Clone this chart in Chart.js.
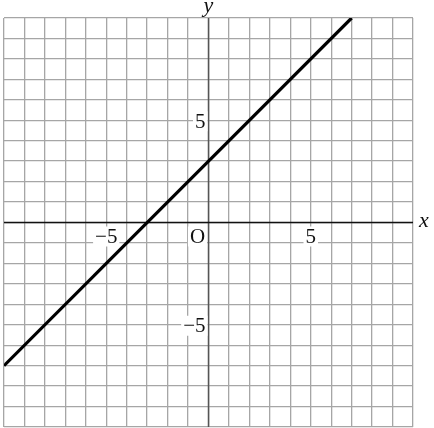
<!DOCTYPE html>
<html>
<head>
<meta charset="utf-8">
<script src="https://cdn.jsdelivr.net/npm/chart.js@4"></script>
<style>
  body { margin: 0; background: #fff; }
  #wrap { width: 434px; height: 428px; }
</style>
</head>
<body>
<div id="wrap"><canvas id="graph"></canvas></div>
<script>
// the line y = x + 3, drawn between its two ends on the grid
const lineX = [-10, 7];
const lineY = [-7, 10];

// labelled ticks on each axis
const xTickLabels = [-5, 5];
const yTickLabels = [5, -5];

const serif = '"Liberation Serif", "DejaVu Serif", serif';

// axes, tick numbers and axis names drawn on top of the grid
const axesPlugin = {
  id: "axes",
  beforeDatasetsDraw(chart) {
    const { ctx, scales: { x, y }, chartArea } = chart;
    const x0 = x.getPixelForValue(0);
    const y0 = y.getPixelForValue(0);
    ctx.save();

    // y axis (dark grey)
    ctx.strokeStyle = "#555";
    ctx.lineWidth = 1.5;
    ctx.beginPath();
    ctx.moveTo(x0, chartArea.top);
    ctx.lineTo(x0, chartArea.bottom);
    ctx.stroke();

    // x axis (black)
    ctx.strokeStyle = "#111";
    ctx.beginPath();
    ctx.moveTo(chartArea.left, y0);
    ctx.lineTo(chartArea.right, y0);
    ctx.stroke();

    ctx.font = "21px " + serif;
    ctx.textBaseline = "middle";

    const boxed = (text, cx, cy, align) => {
      const w = ctx.measureText(text).width;
      let left = cx - w / 2;
      if (align === "right") left = cx - w;
      ctx.fillStyle = "#fff";
      ctx.fillRect(left - 2, cy - 10, w + 4, 20);
      ctx.fillStyle = "#111";
      ctx.textAlign = "left";
      ctx.fillText(text, left, cy + 1);
    };

    xTickLabels.forEach(v => {
      boxed(v < 0 ? "\u2212" + Math.abs(v) : String(v), x.getPixelForValue(v), y0 + 14, "center");
    });
    yTickLabels.forEach(v => {
      boxed(v < 0 ? "\u2212" + Math.abs(v) : String(v), x0 - 3, y.getPixelForValue(v) + 1, "right");
    });
    boxed("O", x0 - 11, y0 + 14, "center");

    // axis names
    ctx.font = "italic 22px " + serif;
    ctx.fillStyle = "#111";
    ctx.textAlign = "center";
    ctx.fillText("x", chartArea.right + 11, y0 - 1);
    ctx.fillText("y", x0, chartArea.top - 12);

    ctx.restore();
  }
};

const points = lineX.map((v, i) => ({ x: v, y: lineY[i] }));

new Chart(document.getElementById("graph"), {
  type: "line",
  data: {
    datasets: [{
      data: points,
      borderColor: "#000",
      borderWidth: 3.2,
      pointRadius: 0,
      fill: false,
      tension: 0
    }]
  },
  options: {
    responsive: true,
    maintainAspectRatio: false,
    animation: false,
    layout: { padding: { left: 4, right: 21, top: 18, bottom: 1 } },
    plugins: { legend: { display: false }, tooltip: { enabled: false } },
    scales: {
      x: {
        type: "linear",
        min: -10, max: 10,
        ticks: { display: false, stepSize: 1 },
        grid: { color: "#a6a6a6", lineWidth: 1.3, drawTicks: false },
        border: { display: false }
      },
      y: {
        type: "linear",
        min: -10, max: 10,
        ticks: { display: false, stepSize: 1 },
        grid: { color: "#a6a6a6", lineWidth: 1.3, drawTicks: false },
        border: { display: false }
      }
    }
  },
  plugins: [axesPlugin]
});
</script>
</body>
</html>
